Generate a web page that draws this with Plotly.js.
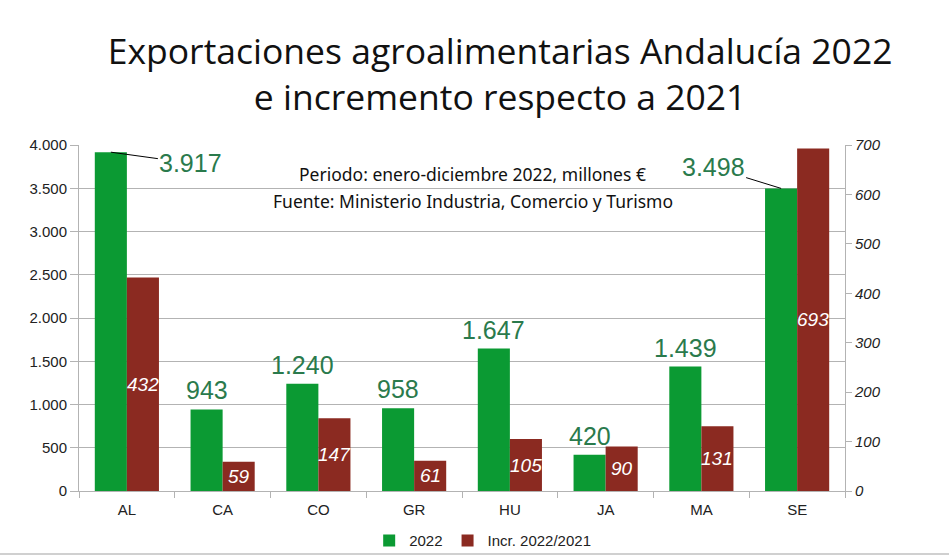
<!DOCTYPE html>
<html><head><meta charset="utf-8">
<script src="https://cdn.plot.ly/plotly-3.0.1.min.js"></script>
<style>html,body{margin:0;padding:0;background:#fff;}#chart{width:949px;height:553px;}#rule{width:949px;height:2px;background:#d0d0d0;}</style>
</head><body>
<div id="chart"></div><div id="rule"></div>
<script>
const categories = ['AL','CA','CO','GR','HU','JA','MA','SE'];
const exports2022 = [3917, 943, 1240, 958, 1647, 420, 1439, 3498];
const increment = [432, 59, 147, 61, 105, 90, 131, 693];
const leftTicks = [0, 500, 1000, 1500, 2000, 2500, 3000, 3500, 4000];
const rightTicks = [0, 100, 200, 300, 400, 500, 600, 700];
const seriesNames = ['2022', 'Incr. 2022/2021'];
const noteLines = ['Periodo: enero-diciembre 2022, millones €', 'Fuente: Ministerio Industria, Comercio y Turismo'];

const green = '#0b9a33';
const red = '#8b2a21';
const labelGreen = '#2a7a4c';

function fmt(v){ return v.toString().replace(/\B(?=(\d{3})+(?!\d))/g, '.'); }

const traces = [
  {type:'bar', name:seriesNames[0], x:categories, y:exports2022, marker:{color:green}, offsetgroup:'a', yaxis:'y', hoverinfo:'x+y'},
  {type:'bar', name:seriesNames[1], x:categories, y:increment, marker:{color:red}, offsetgroup:'b', yaxis:'y2', hoverinfo:'x+y'}
];

const annotations = [];
const offsets = {AL:{ax:80, ay:11}, SE:{ax:-68, ay:-21}};
categories.forEach((c,i)=>{
  const o = offsets[c];
  if (o) {
    annotations.push({x:c, y:exports2022[i], xref:'x', yref:'y', xshift:-16, text:fmt(exports2022[i]),
      showarrow:true, arrowhead:0, arrowwidth:1, arrowcolor:'#000', ax:o.ax, ay:o.ay, standoff:0,
      font:{family:'Liberation Sans, Arial, sans-serif', size:25, color:labelGreen}});
  } else {
    annotations.push({x:c, y:exports2022[i], xref:'x', yref:'y', xshift:-16, yshift:3, text:fmt(exports2022[i]),
      showarrow:false, yanchor:'bottom',
      font:{family:'Liberation Sans, Arial, sans-serif', size:25, color:labelGreen}});
  }
  annotations.push({x:c, y:increment[i]/2, xref:'x', yref:'y2', xshift:16, text:'<i>'+increment[i]+'</i>',
    showarrow:false, font:{family:'Liberation Sans, Arial, sans-serif', size:19, color:'#fff'}});
});
const noteY = [0.916, 0.838];
noteLines.forEach((t,i)=>{
  annotations.push({xref:'paper', yref:'paper', x:0.514, y:noteY[i], xanchor:'center', yanchor:'middle', showarrow:false,
    text:t, font:{family:'Noto Sans, sans-serif', size:17.5, color:'#111'}});
});

const layout = {
  width:949, height:553,
  margin:{l:79, r:104, t:145, b:62},
  paper_bgcolor:'#fff', plot_bgcolor:'#fff',
  separators:',.',
  title:{text:'Exportaciones agroalimentarias Andalucía 2022<br>e incremento respecto a 2021', x:0.527, xanchor:'center', y:0.884, yanchor:'middle', yref:'container',
    font:{family:'Open Sans, sans-serif', size:35.5, color:'#111'}},
  barmode:'group', bargap:0.33, bargroupgap:0,
  xaxis:{type:'category', showline:true, linecolor:'#b3b3b3', ticks:'outside', tickson:'boundaries', ticklen:6, tickcolor:'#b3b3b3',
    ticklabelstandoff:5,
    tickfont:{family:'Liberation Sans, Arial, sans-serif', size:15, color:'#222'}, showgrid:false},
  yaxis:{range:[0,4000], tickvals:leftTicks, tickformat:',d', showline:true, linecolor:'#b3b3b3', ticks:'outside', ticklen:8, tickcolor:'#b3b3b3',
    gridcolor:'#b3b3b3', zeroline:false, tickfont:{family:'Liberation Sans, Arial, sans-serif', size:15, color:'#222'}},
  yaxis2:{range:[0,700], tickvals:rightTicks, overlaying:'y', side:'right', showline:true, linecolor:'#b3b3b3', ticks:'outside', ticklen:6, tickcolor:'#b3b3b3',
    showgrid:false, zeroline:false, tickfont:{family:'Liberation Sans, Arial, sans-serif', size:15, color:'#222', style:'italic'}},
  legend:{orientation:'h', x:0.527, xanchor:'center', yref:'container', y:0.022, yanchor:'middle', font:{family:'Liberation Sans, Arial, sans-serif', size:15, color:'#222'}, itemwidth:30, tracegroupgap:0},
  annotations:annotations,
  showlegend:true
};
Plotly.newPlot('chart', traces, layout, {displayModeBar:false, staticPlot:true});
</script>
</body></html>
